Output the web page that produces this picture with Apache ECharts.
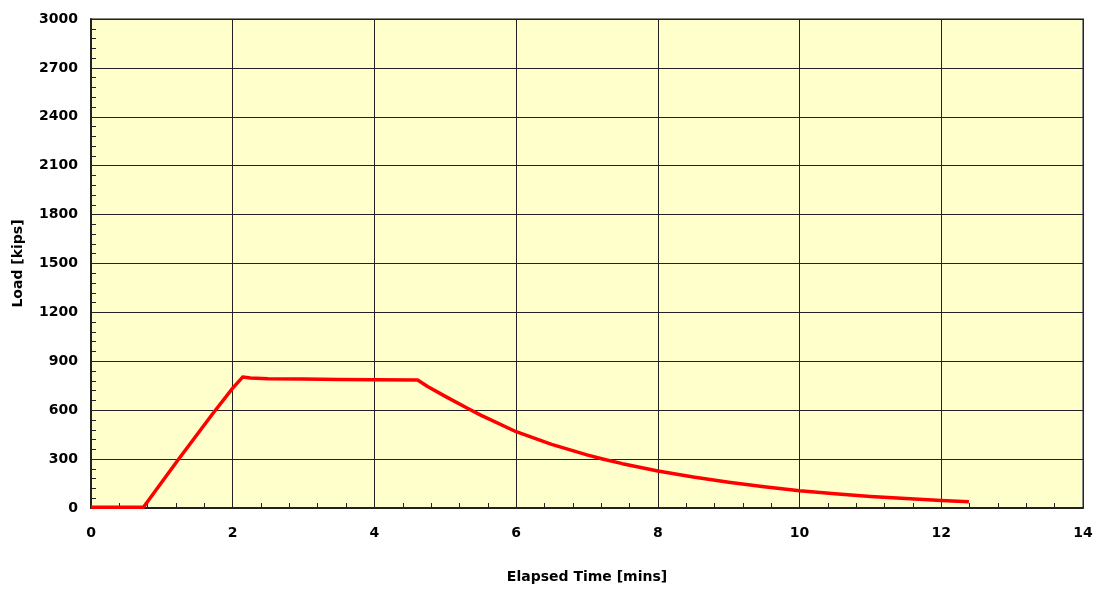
<!DOCTYPE html>
<html>
<head>
<meta charset="utf-8">
<script src="https://cdn.jsdelivr.net/npm/echarts@6/dist/echarts.min.js"></script>
<style>html,body{margin:0;padding:0;background:#fff}#c{width:1097px;height:590px}</style>
</head>
<body>
<div id="c"></div>
<script>
var timeMins = [0, 0.74, 1.22, 1.72, 2.0, 2.14, 2.25, 2.5, 3.0, 3.5, 4.0, 4.61, 4.75, 5.0, 5.32, 5.5, 6.0, 6.5, 7.0, 7.22, 7.5, 8.0, 8.5, 9.0, 9.5, 10.0, 10.5, 11.0, 11.5, 12.0, 12.39];
var loadKips = [5, 5, 290, 580, 735, 803, 797, 793, 791, 789, 787, 785, 745, 685, 610, 570, 468, 390, 326, 301, 272, 227, 190, 158, 130, 106, 87, 71, 58, 46, 38];
var xTicks = {min: 0, max: 14, interval: 2};
var yTicks = {min: 0, max: 3000, interval: 300};

var pts = timeMins.map(function (t, i) { return [t, loadKips[i]]; });
var lbl = {fontFamily: 'DejaVu Sans, sans-serif', fontWeight: 'bold', fontSize: 14, color: '#000'};
var chart = echarts.init(document.getElementById('c'), null, {renderer: 'canvas'});
chart.setOption({
  animation: false,
  grid: {left: 91, right: 14, top: 19, bottom: 82, show: true, backgroundColor: '#FFFFCC', borderColor: '#8a8a8a', borderWidth: 2},
  xAxis: {
    type: 'value', min: xTicks.min, max: xTicks.max, interval: xTicks.interval,
    name: 'Elapsed Time [mins]', nameLocation: 'middle', nameGap: 62,
    nameTextStyle: lbl,
    axisLine: {show: true, onZero: false, lineStyle: {color: '#222', width: 2}},
    axisTick: {show: true, inside: true, length: 5, lineStyle: {color: '#222', width: 1}},
    minorTick: {show: true, splitNumber: 5, length: 5, lineStyle: {color: '#222', width: 1}},
    axisLabel: Object.assign({margin: 18, formatter: function (v) { return String(v); }}, lbl),
    splitLine: {show: true, lineStyle: {color: '#222', width: 1}}
  },
  yAxis: {
    type: 'value', min: yTicks.min, max: yTicks.max, interval: yTicks.interval,
    name: 'Load [kips]', nameLocation: 'middle', nameGap: 66,
    nameTextStyle: lbl,
    axisLine: {show: true, onZero: false, lineStyle: {color: '#222', width: 2}},
    axisTick: {show: true, inside: true, length: 5, lineStyle: {color: '#222', width: 1}},
    minorTick: {show: true, splitNumber: 5, length: 5, lineStyle: {color: '#222', width: 1}},
    axisLabel: Object.assign({margin: 13, formatter: function (v) { return String(v); }}, lbl),
    splitLine: {show: true, lineStyle: {color: '#222', width: 1}}
  },
  series: [{
    type: 'line', data: pts, showSymbol: false, symbol: 'none', smooth: false,
    lineStyle: {color: '#FF0000', width: 3.5, join: 'round'}, z: 5
  }]
});
</script>
</body>
</html>
